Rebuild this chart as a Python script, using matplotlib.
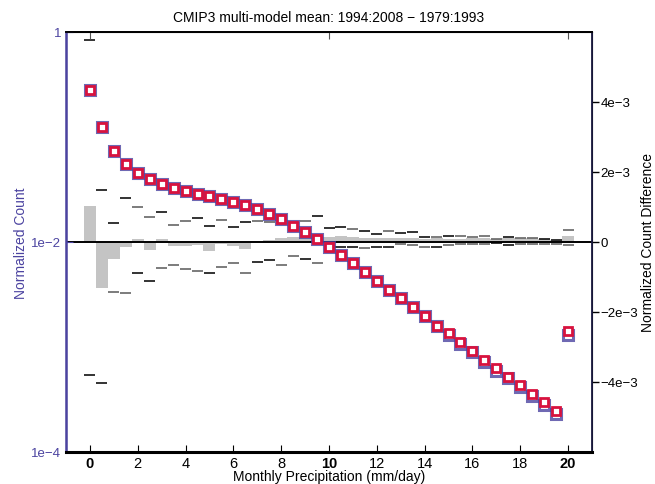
import matplotlib
matplotlib.use("Agg")
import matplotlib.pyplot as plt
import numpy as np

plt.rcParams['font.family'] = ['Liberation Sans', 'DejaVu Sans']

# precipitation bins (mm/day)
precip = [i * 0.5 for i in range(41)]

# normalized counts, 1979:1993 (blue) and 1994:2008 (red)
count_old = [0.282, 0.1236, 0.0736, 0.0557, 0.0457, 0.0395, 0.0355, 0.0327, 0.0304, 0.0288,
             0.0274, 0.0257, 0.0242, 0.0225, 0.0206, 0.0185, 0.0166, 0.0143, 0.01236, 0.0107,
             0.00902, 0.00757, 0.00631, 0.00518, 0.00423, 0.00349, 0.00293, 0.00239, 0.00196, 0.00160,
             0.00131, 0.00107, 0.000891, 0.000725, 0.000594, 0.000503, 0.000413, 0.000339, 0.000281, 0.000229,
             0.00130]
count_new = [0.282, 0.1236, 0.0736, 0.0557, 0.0457, 0.0395, 0.0355, 0.0327, 0.0304, 0.0288,
             0.0274, 0.0257, 0.0242, 0.0225, 0.0206, 0.0185, 0.0166, 0.0143, 0.01236, 0.0107,
             0.00902, 0.00757, 0.00631, 0.00518, 0.00423, 0.00349, 0.00293, 0.00239, 0.00196, 0.00160,
             0.00135, 0.00112, 0.000922, 0.000757, 0.000627, 0.000518, 0.000435, 0.000359, 0.000297, 0.000244,
             0.00143]

# difference of the means (x 1e-3)
diff = [1.02, -1.31, -0.48, -0.14, 0.09, -0.22, 0.09, -0.11, -0.11, -0.10,
        -0.25, -0.05, -0.11, -0.19, 0.03, 0.07, 0.11, 0.13, 0.13, 0.16,
        0.15, 0.18, 0.15, 0.12, 0.12, 0.10, 0.12, 0.10, 0.08, 0.10,
        0.08, 0.08, 0.10, 0.10, 0.08, 0.10, 0.10, 0.10, 0.08, 0.05,
        0.18]

# model spread of the difference (x 1e-3)
upper = [5.77, 1.49, 0.54, 1.26, 1.01, 0.72, 0.85, 0.49, 0.59, 0.69,
         0.45, 0.64, 0.43, 0.57, 0.59, 0.56, 0.76, 0.54, 0.59, 0.75,
         0.40, 0.43, 0.38, 0.32, 0.24, 0.30, 0.25, 0.29, 0.15, 0.13,
         0.18, 0.18, 0.13, 0.16, 0.09, 0.13, 0.11, 0.11, 0.09, 0.06,
         0.35]
lower = [-3.79, -4.03, -1.43, -1.46, -0.89, -1.11, -0.73, -0.65, -0.76, -0.82,
         -0.88, -0.71, -0.59, -0.90, -0.57, -0.51, -0.65, -0.41, -0.49, -0.61,
         -0.25, -0.14, -0.14, -0.17, -0.14, -0.14, -0.06, -0.10, -0.14, -0.14,
         -0.08, -0.06, -0.06, -0.06, -0.03, -0.08, -0.06, -0.06, -0.06, -0.05,
         -0.08]
upper_dark = [1, 1, 1, 1, 0, 0, 1, 0, 0, 1, 1, 0, 1, 1, 0, 0, 1, 0, 0, 1,
              1, 1, 0, 1, 1, 0, 1, 1, 1, 0, 1, 0, 0, 0, 0, 1, 0, 0, 1, 1, 0]
lower_dark = [1, 1, 0, 0, 1, 1, 0, 0, 0, 0, 1, 0, 0, 0, 1, 1, 0, 0, 1, 0,
              1, 1, 1, 0, 1, 1, 0, 0, 0, 1, 0, 0, 0, 0, 1, 1, 0, 0, 0, 0, 0]

left_ticks = [1e-4, 1e-2, 1]
left_labels = ['1e\u22124', '1e\u22122', '1']
right_ticks = [-4e-3, -2e-3, 0, 2e-3, 4e-3]
right_labels = ['\u22124e\u22123', '\u22122e\u22123', '0', '2e\u22123', '4e\u22123']

blue = '#4b43a0'
red = '#d8123e'

x = np.array(precip)
fig = plt.figure(figsize=(6.55, 4.85), dpi=100)
ax = fig.add_axes([0.1008, 0.066, 0.803, 0.866])
ax2 = ax.twinx()

# difference panel (right axis)
d = np.array(diff) * 1e-3
ax2.bar(x, d, width=0.5, color='#c4c4c4', linewidth=0)
up = np.array(upper) * 1e-3
lo = np.array(lower) * 1e-3
for xi, u, l, du, dl in zip(x, up, lo, upper_dark, lower_dark):
    ax2.hlines(u, xi - 0.23, xi + 0.23, color='#111111' if du else '#666666', lw=1.2)
    ax2.hlines(l, xi - 0.23, xi + 0.23, color='#111111' if dl else '#666666', lw=1.2)
ax2.axhline(0, color='black', lw=1.4)
ax2.set_ylim(-6e-3, 6e-3)
ax2.set_yticks(right_ticks)
ax2.set_yticklabels(right_labels)
ax2.tick_params(axis='y', direction='out', length=5, width=1, labelsize=9.5, pad=1)
ax2.set_ylabel('Normalized Count Difference', fontsize=10, labelpad=2)

# counts (left log axis), on top of the bars
ax.set_zorder(ax2.get_zorder() + 1)
ax.patch.set_visible(False)
ax.plot(x, count_old, 's', ms=6.8, mfc='white', mec=blue, mew=2.2, alpha=0.8)
ax.plot(x, count_new, 's', ms=6.4, mfc='white', mec=red, mew=2.0)
ax.set_yscale('log')
ax.set_ylim(1e-4, 1)
ax.set_xlim(-1, 21)
ax.set_yticks(left_ticks)
ax.set_yticklabels(left_labels)
ax.minorticks_off()
ax.tick_params(axis='y', direction='in', length=5, colors=blue, labelcolor=blue, labelsize=9.5)
ax.set_ylabel('Normalized Count', color=blue, fontsize=10, labelpad=2)

ax.set_xticks(range(0, 21, 2))
ax.tick_params(axis='x', direction='in', length=5, labelsize=10.5, pad=3)
for lab in ax.get_xticklabels():
    if lab.get_text() in ('0', '10', '20'):
        lab.set_fontweight('bold')
ax.set_xlabel('Monthly Precipitation (mm/day)', fontsize=10, labelpad=-1)

top = ax.secondary_xaxis('top')
top.set_xticks([0, 10, 20])
top.set_xticklabels([])
top.tick_params(direction='in', length=5, color='#555555')

ax.spines['left'].set_color(blue)
ax.spines['left'].set_linewidth(1.8)
ax.spines['bottom'].set_linewidth(2.2)
ax.spines['top'].set_linewidth(1.3)
ax.spines['right'].set_color('#1a1a40')
ax.spines['right'].set_linewidth(1.3)
top.spines['top'].set_linewidth(1.3)

ax.set_title('CMIP3 multi-model mean: 1994:2008 \u2212 1979:1993', fontsize=10, pad=8)

fig.savefig('out.png', dpi=100)
